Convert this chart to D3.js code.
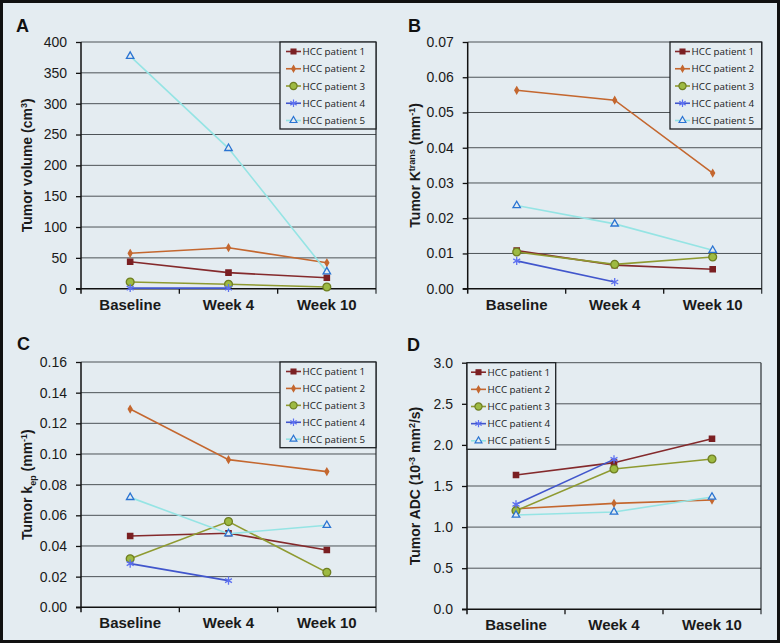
<!DOCTYPE html>
<html>
<head>
<meta charset="utf-8">
<script src="https://cdn.jsdelivr.net/npm/d3@7"></script>
<style>
  body { margin: 0; background: #fff; }
  svg { display: block; }
</style>
</head>
<body>
<div id="chart"></div>
<script>
const categories = ["Baseline", "Week 4", "Week 10"];
const patients = ["HCC patient 1", "HCC patient 2", "HCC patient 3", "HCC patient 4", "HCC patient 5"];

// one row per patient, null where there is no measurement
const volumeValues = [
  [43.8, 26, 17.8],
  [57.4, 66.5, 42],
  [10.9, 7.1, 2.8],
  [1, 1, null],
  [377, 227.6, 27.6]
];
const ktransValues = [
  [0.0108, 0.0067, 0.0055],
  [0.0563, 0.0535, 0.0328],
  [0.0104, 0.0069, 0.009],
  [0.0079, 0.0019, null],
  [0.0236, 0.0184, 0.0109]
];
const kepValues = [
  [0.0465, 0.0483, 0.0374],
  [0.1293, 0.0963, 0.0885],
  [0.0317, 0.0559, 0.0228],
  [0.0285, 0.0174, null],
  [0.0717, 0.048, 0.0535]
];
const adcValues = [
  [1.634, 1.784, 2.075],
  [1.224, 1.289, 1.33],
  [1.2, 1.707, 1.828],
  [1.277, 1.824, null],
  [1.147, 1.184, 1.366]
];

const volumeTicks = ["0", "50", "100", "150", "200", "250", "300", "350", "400"];
const ktransTicks = ["0.00", "0.01", "0.02", "0.03", "0.04", "0.05", "0.06", "0.07"];
const kepTicks = ["0.00", "0.02", "0.04", "0.06", "0.08", "0.10", "0.12", "0.14", "0.16"];
const adcTicks = ["0.0", "0.5", "1.0", "1.5", "2.0", "2.5", "3.0"];

const width = 780, height = 643;
const bg = "#e4ecf1";

// line colour, marker shape and marker look for each patient
const styles = [
  {line: "#842a2c", symbol: d3.symbolSquare, size: 28, fill: "#7a1f22", stroke: "#7a1f22"},
  {line: "#c4672f", symbol: d3.symbolDiamond, size: 13, fill: "#c4672f", stroke: "#c4672f"},
  {line: "#8e9a30", symbol: d3.symbolCircle, size: 48, fill: "#9dba42", stroke: "#6f7f22"},
  {line: "#4156cc", symbol: d3.symbolAsterisk, size: 45, fill: "none", stroke: "#5d70f0"},
  {line: "#95e4e4", symbol: d3.symbolTriangle, size: 24, fill: bg, stroke: "#2a74d2"}
];

const svg = d3.select("#chart").append("svg")
  .attr("width", width)
  .attr("height", height);

svg.append("rect")
  .attr("x", 1.5).attr("y", 1.5)
  .attr("width", width - 3).attr("height", height - 3)
  .attr("fill", bg)
  .attr("stroke", "#111")
  .attr("stroke-width", 3);

const panels = [
  {letter: "A", lx: 16, ly: 32, values: volumeValues, ticks: volumeTicks,
   left: 81, top: 42, right: 376, bottom: 288.7, labelX: 32,
   label: [["Tumor volume (cm", 0], ["3", -1], [")", 0]],
   legend: {x: 280, y: 42, w: 96, h: 87, pad: 0}},
  {letter: "B", lx: 408, ly: 32, values: ktransValues, ticks: ktransTicks,
   left: 467.7, top: 42, right: 761.7, bottom: 288.7, labelX: 420,
   label: [["Tumor K", 0], ["trans", -1], [" (mm", 0], ["-1", -1], [")", 0]],
   legend: {x: 670, y: 42, w: 91.7, h: 87, pad: -1}},
  {letter: "C", lx: 17, ly: 350, values: kepValues, ticks: kepTicks,
   left: 81, top: 362, right: 376, bottom: 607.3, labelX: 32,
   label: [["Tumor k", 0], ["ep", 1], [" (mm", 0], ["-1", -1], [")", 0]],
   legend: {x: 280, y: 362, w: 96, h: 85.7, pad: 0}},
  {letter: "D", lx: 407, ly: 351, values: adcValues, ticks: adcTicks,
   left: 467, top: 362.7, right: 761, bottom: 609.3, labelX: 420,
   label: [["Tumor ADC (10", 0], ["-3", -1], [" mm", 0], ["2", -1], ["/s)", 0]],
   legend: {x: 467, y: 362.7, w: 88.7, h: 86.6, pad: -2}}
];

panels.forEach(drawPanel);

function drawPanel(p) {
  const g = svg.append("g");
  const tickVals = p.ticks.map(Number);

  const x = d3.scaleBand()
    .domain(categories)
    .range([p.left, p.right]);

  const y = d3.scaleLinear()
    .domain([0, d3.max(tickVals)])
    .range([p.bottom, p.top]);

  // gridlines
  g.selectAll(".grid")
    .data(tickVals.slice(1))
    .join("line")
    .attr("x1", p.left).attr("x2", p.right)
    .attr("y1", d => y(d)).attr("y2", d => y(d))
    .attr("stroke", "#4d5357")
    .attr("stroke-width", 1);

  // right frame line, runs down like a tick
  g.append("line")
    .attr("x1", p.right).attr("x2", p.right)
    .attr("y1", p.top).attr("y2", p.bottom + 5)
    .attr("stroke", "#2b3033").attr("stroke-width", 1.2);

  // y axis
  const yAxis = g.append("g")
    .attr("transform", `translate(${p.left},0)`)
    .call(d3.axisLeft(y).tickValues(tickVals).tickSize(5)
      .tickFormat((d, i) => p.ticks[i]).tickPadding(9));
  yAxis.select(".domain").remove();
  yAxis.selectAll(".tick line").attr("stroke", "#111").attr("stroke-width", 1.3);
  yAxis.selectAll(".tick text")
    .attr("fill", "#1a1a1a")
    .style("font-family", "Liberation Sans, Arial, sans-serif")
    .style("font-size", "14px");

  g.append("line")
    .attr("x1", p.left).attr("x2", p.left)
    .attr("y1", p.top).attr("y2", p.bottom + 5)
    .attr("stroke", "#111").attr("stroke-width", 1.5);

  // x axis: ticks at band edges, labels at band centres
  g.append("line")
    .attr("x1", p.left - 5).attr("x2", p.right)
    .attr("y1", p.bottom).attr("y2", p.bottom)
    .attr("stroke", "#111").attr("stroke-width", 1.5);

  const edges = categories.map(c => x(c)).concat([x(categories[categories.length - 1]) + x.bandwidth()]);
  g.selectAll(".xtick")
    .data(edges.slice(1, -1))
    .join("line")
    .attr("x1", d => d).attr("x2", d => d)
    .attr("y1", p.bottom).attr("y2", p.bottom + 5)
    .attr("stroke", "#111").attr("stroke-width", 1.3);

  g.selectAll(".xlabel")
    .data(categories)
    .join("text")
    .attr("x", d => x(d) + x.bandwidth() / 2)
    .attr("y", p.bottom + 21)
    .attr("text-anchor", "middle")
    .attr("fill", "#1a1a1a")
    .style("font-family", "Liberation Sans, Arial, sans-serif")
    .style("font-weight", "bold")
    .style("font-size", "15px")
    .text(d => d);

  // y axis title with super/subscripts
  const title = g.append("text")
    .attr("transform", `translate(${p.labelX},${(p.top + p.bottom) / 2}) rotate(-90)`)
    .attr("text-anchor", "middle")
    .attr("fill", "#1a1a1a")
    .style("font-family", "Liberation Sans, Arial, sans-serif")
    .style("font-weight", "bold")
    .style("font-size", "14px");
  let shift = 0;
  p.label.forEach(([t, pos]) => {
    const target = pos < 0 ? -5 : pos > 0 ? 4 : 0;
    title.append("tspan")
      .attr("dy", target - shift)
      .style("font-size", pos === 0 ? "14px" : "9px")
      .text(t);
    shift = target;
  });

  // panel letter
  g.append("text")
    .attr("x", p.lx).attr("y", p.ly)
    .attr("fill", "#111")
    .style("font-family", "Liberation Sans, Arial, sans-serif")
    .style("font-weight", "bold")
    .style("font-size", "18px")
    .text(p.letter);

  // series
  const line = d3.line()
    .defined(d => d[1] != null)
    .x(d => x(d[0]) + x.bandwidth() / 2)
    .y(d => y(d[1]));

  p.values.forEach((vals, i) => {
    const s = styles[i];
    const pts = categories.map((c, j) => [c, vals[j]]);
    g.append("path")
      .datum(pts)
      .attr("d", line)
      .attr("fill", "none")
      .attr("stroke", s.line)
      .attr("stroke-width", 1.6);
    g.selectAll(".m" + i)
      .data(pts.filter(d => d[1] != null))
      .join("path")
      .attr("transform", d => `translate(${x(d[0]) + x.bandwidth() / 2},${y(d[1])})`)
      .attr("d", d3.symbol(s.symbol, s.size))
      .attr("fill", s.fill)
      .attr("stroke", s.stroke)
      .attr("stroke-width", 1.3);
  });

  // legend
  const lg = g.append("g").attr("transform", `translate(${p.legend.x},${p.legend.y})`);
  lg.append("rect")
    .attr("width", p.legend.w).attr("height", p.legend.h)
    .attr("fill", bg)
    .attr("stroke", "#1d2124").attr("stroke-width", 1.3);
  const rowH = (p.legend.h - 18) / 4;
  patients.forEach((name, i) => {
    const s = styles[i];
    const ry = 9.5 + i * rowH;
    lg.append("line")
      .attr("x1", 6 + p.legend.pad).attr("x2", 21 + p.legend.pad)
      .attr("y1", ry).attr("y2", ry)
      .attr("stroke", s.line).attr("stroke-width", 1.6);
    lg.append("path")
      .attr("transform", `translate(${13.5 + p.legend.pad},${ry})`)
      .attr("d", d3.symbol(s.symbol, s.size * 0.85))
      .attr("fill", s.fill)
      .attr("stroke", s.stroke)
      .attr("stroke-width", 1.2);
    lg.append("text")
      .attr("x", 22.5 + p.legend.pad).attr("y", ry + 3.6)
      .attr("fill", "#1a1a1a")
      .style("font-family", "'Open Sans', sans-serif")
      .style("font-size", "9.8px")
      .text(name);
  });
}
</script>
</body>
</html>
